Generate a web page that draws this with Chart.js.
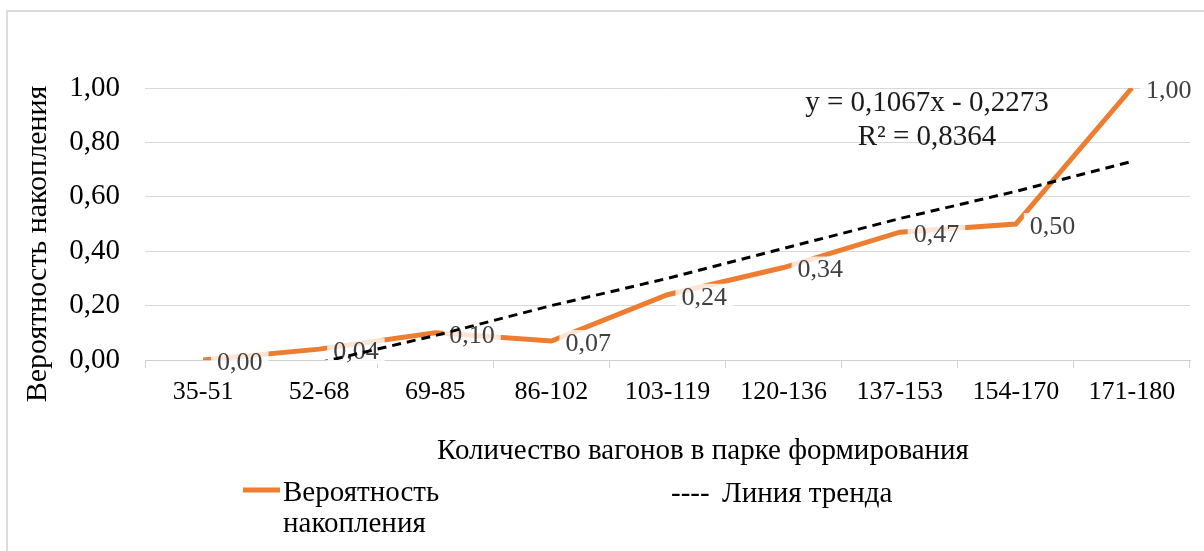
<!DOCTYPE html>
<html>
<head>
<meta charset="utf-8">
<script src="https://cdn.jsdelivr.net/npm/chart.js@4.4.1/dist/chart.umd.min.js"></script>
<style>
html,body{margin:0;padding:0;background:#fff;}
canvas{display:block;}
</style>
</head>
<body>
<canvas id="chart" width="1204" height="551"></canvas>
<script>
const categories = ["35-51","52-68","69-85","86-102","103-119","120-136","137-153","154-170","171-180"];
const probability = [0.00, 0.04, 0.10, 0.07, 0.24, 0.34, 0.47, 0.50, 1.00];
// trend line values (below 0 is clipped by the axis)
const trend = [null, -0.01, 0.09, 0.20, 0.30, 0.41, 0.52, 0.62, 0.73];
const yTicks = [0, 0.2, 0.4, 0.6, 0.8, 1.0];
const equationText = ["y = 0,1067x - 0,2273", "R² = 0,8364"];
const xTitle = "Количество вагонов в парке формирования";
const yTitle = "Вероятность накопления";

const serif = '"Liberation Serif", "Times New Roman", serif';
const fmt = v => v.toFixed(2).replace(".", ",");

Chart.defaults.font.family = serif;
Chart.defaults.color = "#000";

// value labels on the orange line, drawn before the trend line
const pointLabels = {
    id: "pointLabels",
    afterDatasetDraw(chart, args){
        if(args.index !== 0) return;
        const ctx = chart.ctx;
        ctx.save();
        ctx.font = "26px " + serif;
        ctx.textBaseline = "middle";
        args.meta.data.forEach((pt, i) => {
            const txt = fmt(probability[i]);
            const w = ctx.measureText(txt).width;
            const x = pt.x + 14, y = pt.y + 2;
            ctx.fillStyle = "rgba(255,255,255,0.8)";
            ctx.fillRect(x - 6, y - 13, w + 12, 26);
            ctx.fillStyle = "#404040";
            ctx.fillText(txt, x, y + 1);
        });
        ctx.restore();
    }
};

// frame, axis titles, trend equation and legend
const extras = {
    id: "extras",
    afterDraw(chart){
        const ctx = chart.ctx;
        const area = chart.chartArea;
        ctx.save();

        ctx.strokeStyle = "#dcdcdc";
        ctx.lineWidth = 2;
        ctx.beginPath();
        ctx.moveTo(7, 551);
        ctx.lineTo(7, 11);
        ctx.lineTo(1204, 11);
        ctx.stroke();

        ctx.fillStyle = "#000";
        ctx.textAlign = "center";
        ctx.textBaseline = "middle";

        ctx.save();
        ctx.translate(38, 244);
        ctx.rotate(-Math.PI / 2);
        ctx.font = "30px " + serif;
        ctx.fillText(yTitle, 0, 0);
        ctx.restore();

        ctx.font = "29px " + serif;
        ctx.fillText(xTitle, 703, 451);

        ctx.fillStyle = "#1a1a1a";
        ctx.fillText(equationText[0], area.left + 782, area.top + 15);
        ctx.fillText(equationText[1], area.left + 782, area.top + 49);

        // legend
        const ds = chart.data.datasets;
        ctx.textAlign = "left";
        ctx.strokeStyle = ds[0].borderColor;
        ctx.lineWidth = 5;
        ctx.beginPath();
        ctx.moveTo(243, 490);
        ctx.lineTo(280, 490);
        ctx.stroke();
        ctx.fillStyle = "#000";
        ctx.fillText(ds[0].label[0], 283, 493);
        ctx.fillText(ds[0].label[1], 283, 524);
        ctx.fillText("----", 671, 494);
        ctx.fillText(ds[1].label, 722, 494);

        ctx.restore();
    }
};

new Chart(document.getElementById("chart"), {
    type: "line",
    data: {
        labels: categories,
        datasets: [{
            label: ["Вероятность", "накопления"],
            data: probability,
            borderColor: "#ED7D31",
            borderWidth: 5,
            pointRadius: 0,
            tension: 0,
            order: 2
        },{
            label: "Линия тренда",
            data: trend,
            borderColor: "#000",
            borderWidth: 3,
            borderDash: [9, 6],
            pointRadius: 0,
            tension: 0,
            spanGaps: false,
            order: 1
        }]
    },
    options: {
        responsive: false,
        animation: false,
        devicePixelRatio: 1,
        layout: { padding: { top: 88, left: 10, right: 14, bottom: 86 } },
        plugins: {
            legend: { display: false },
            tooltip: { enabled: false }
        },
        scales: {
            x: {
                offset: true,
                grid: {
                    offset: true,
                    drawOnChartArea: false,
                    tickLength: 8,
                    color: "#d0d0d0"
                },
                border: { color: "#d0d0d0" },
                ticks: { padding: 9, font: { size: 26 }, color: "#000", maxRotation: 0 },
                afterFit(scale){ scale.height = 105; }
            },
            y: {
                min: 0,
                max: 1,
                afterBuildTicks(scale){ scale.ticks = yTicks.map(v => ({ value: v })); },
                grid: { color: "#d9d9d9", drawTicks: false },
                border: { display: false },
                ticks: { padding: 25, font: { size: 29 }, color: "#000", callback: v => fmt(v) },
                afterFit(scale){ scale.width = 135; }
            }
        }
    },
    plugins: [pointLabels, extras]
});
</script>
</body>
</html>
